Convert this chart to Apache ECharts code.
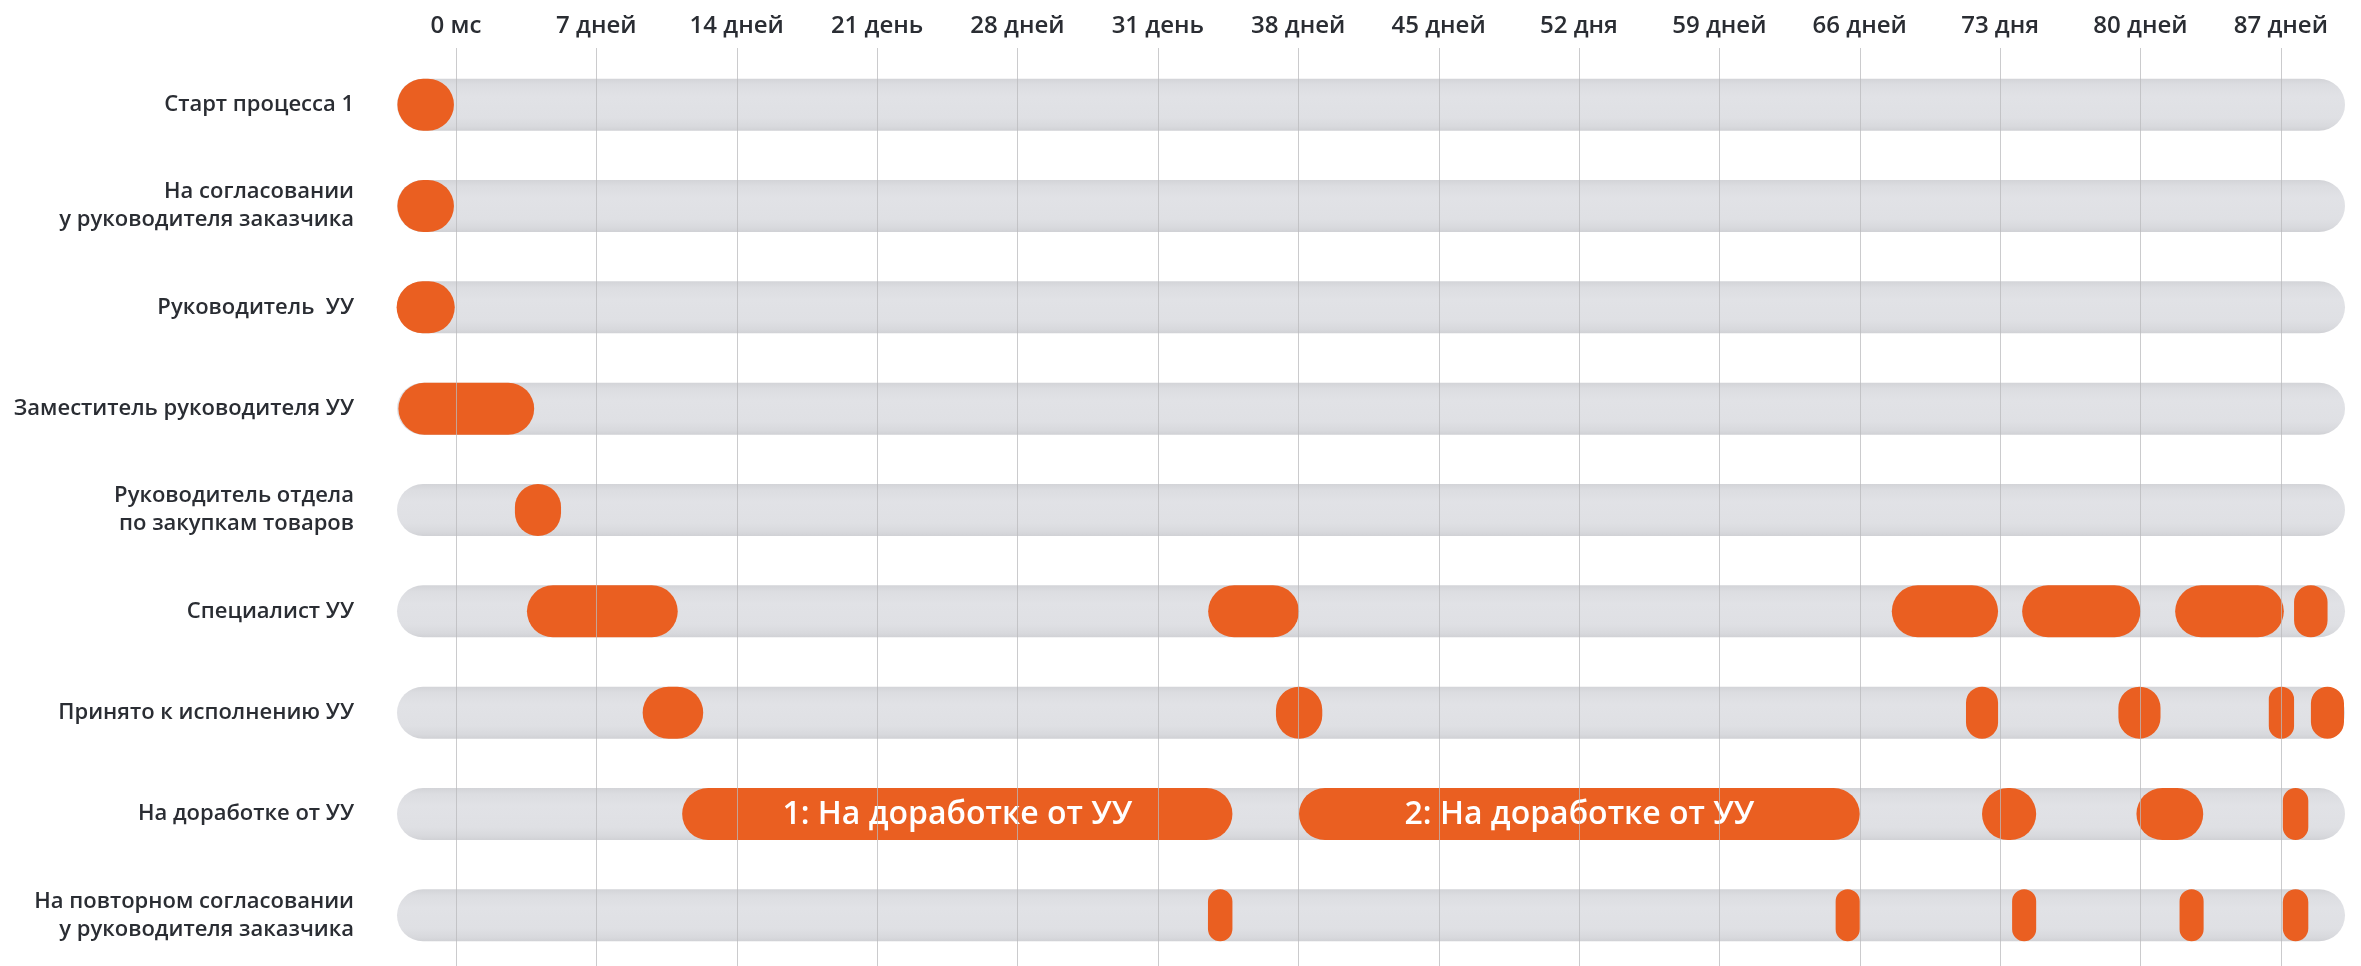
<!DOCTYPE html>
<html><head><meta charset="utf-8">
<script src="https://cdn.jsdelivr.net/npm/echarts@6/dist/echarts.min.js"></script>
<style>html,body{margin:0;padding:0;background:#fff}#c{width:2361px;height:966px}</style>
</head><body><div id="c"></div>
<script>
// ---- data (days) ----
const categories = [
  'Старт процесса 1',
  'На согласовании\nу руководителя заказчика',
  'Руководитель  УУ',
  'Заместитель руководителя УУ',
  'Руководитель отдела\nпо закупкам товаров',
  'Специалист УУ',
  'Принято к исполнению УУ',
  'На доработке от УУ',
  'На повторном согласовании\nу руководителя заказчика'
];
const tickValues = [0, 7, 14, 21, 28, 35, 42, 49, 56, 63, 70, 77, 84, 91];
const tickLabels = ['0 мс', '7 дней', '14 дней', '21 день', '28 дней', '31 день', '38 дней',
  '45 дней', '52 дня', '59 дней', '66 дней', '73 дня', '80 дней', '87 дней'];
const trackRange = [-2.94, 94.2];

const startProcess   = [[-2.92, -0.1]];
const approvalClient = [[-2.92, -0.1]];
const headUU         = [[-2.96, -0.06]];
const deputyHeadUU   = [[-2.87, 3.9]];
const headPurchasing = [[2.94, 5.24]];
const specialistUU   = [[3.54, 11.06], [37.51, 42.04], [71.6, 76.9], [78.1, 84.0], [85.73, 91.15], [91.66, 93.33]];
const acceptedUU     = [[9.31, 12.33], [40.89, 43.2], [75.3, 76.9], [82.9, 85.0], [90.4, 91.66], [92.5, 94.15]];
const reworkUU       = [[11.28, 38.72], [42.04, 70.0], [76.1, 78.8], [83.8, 87.13], [91.1, 92.37]];
const reApproval     = [[37.5, 38.72], [68.8, 70.0], [77.6, 78.8], [85.95, 87.15], [91.1, 92.37]];
const reworkLabels   = ['1: На доработке от УУ', '2: На доработке от УУ'];

const rows = [startProcess, approvalClient, headUU, deputyHeadUU, headPurchasing,
  specialistUU, acceptedUU, reworkUU, reApproval];

// ---- build series data ----
const trackData = categories.map((c, i) => [i, trackRange[0], trackRange[1]]);
const segData = [];
rows.forEach((segs, i) => segs.forEach((s, k) => {
  const label = (i === 7 && k < reworkLabels.length) ? reworkLabels[k] : '';
  segData.push({ value: [i, s[0], s[1]], label: label });
}));
const segLabels = segData.map(d => d.label);

const BAR_H = 52;
const FONT = '"Open Sans", "Noto Sans", sans-serif';

function pill(params, api, fill, extra) {
  const row = api.value(0);
  const p1 = api.coord([api.value(1), row]);
  const p2 = api.coord([api.value(2), row]);
  const w = p2[0] - p1[0];
  const children = [{
    type: 'rect',
    shape: { x: p1[0], y: p1[1] - BAR_H / 2, width: w, height: BAR_H, r: BAR_H / 2 },
    style: { fill: fill }
  }];
  if (extra) children.push(extra(p1, p2));
  return { type: 'group', children: children };
}

const chart = echarts.init(document.getElementById('c'), null, { renderer: 'canvas' });
chart.setOption({
  animation: false,
  backgroundColor: '#ffffff',
  grid: { left: 397, right: 16, top: 54, bottom: 0, containLabel: false },
  xAxis: {
    type: 'value', position: 'top',
    min: trackRange[0], max: trackRange[1],
    axisLine: { show: false }, axisTick: { show: false }, splitLine: { show: false },
    axisLabel: {
      customValues: tickValues,
      formatter: v => tickLabels[tickValues.indexOf(Math.round(v))] || '',
      fontFamily: FONT, fontWeight: 600, fontSize: 24, color: '#2a2d33', margin: 16
    }
  },
  yAxis: {
    type: 'category', inverse: true, data: categories,
    axisLine: { show: false }, axisTick: { show: false }, splitLine: { show: false },
    axisLabel: {
      fontFamily: FONT, fontWeight: 600, fontSize: 22, lineHeight: 28,
      color: '#2a2d33', margin: 43, align: 'right'
    }
  },
  series: [
    {
      type: 'custom', name: 'track', z: 1, silent: true,
      data: trackData,
      encode: { x: [1, 2], y: 0 },
      renderItem: (params, api) => pill(params, api, {
        type: 'linear', x: 0, y: 0, x2: 0, y2: 1,
        colorStops: [
          { offset: 0, color: '#d3d4d8' }, { offset: 0.12, color: '#dcdde1' },
          { offset: 0.35, color: '#e1e2e6' }, { offset: 0.75, color: '#dfe0e4' },
          { offset: 0.92, color: '#d8d9dd' }, { offset: 1, color: '#d0d1d5' }
        ]
      })
    },
    {
      type: 'custom', name: 'segments', z: 2, silent: true,
      data: segData,
      encode: { x: [1, 2], y: 0 },
      renderItem: (params, api) => pill(params, api, '#ea5f21', (p1, p2) => ({
        type: 'text',
        style: {
          text: segLabels[params.dataIndex],
          x: (p1[0] + p2[0]) / 2, y: p1[1] + 1,
          align: 'center', verticalAlign: 'middle',
          fill: '#ffffff', font: '600 32px ' + FONT
        }
      }))
    },
    {
      type: 'custom', name: 'gridlines', z: 5, silent: true,
      data: tickValues.map(v => [v]),
      encode: { x: 0 },
      renderItem: (params, api) => {
        const x = Math.round(api.coord([api.value(0), 0])[0]) + 0.5;
        return {
          type: 'line',
          shape: { x1: x, y1: params.coordSys.y - 6, x2: x, y2: params.coordSys.y + params.coordSys.height },
          style: { stroke: 'rgba(185,185,188,0.75)', lineWidth: 1 }
        };
      }
    }
  ]
});
</script></body></html>
